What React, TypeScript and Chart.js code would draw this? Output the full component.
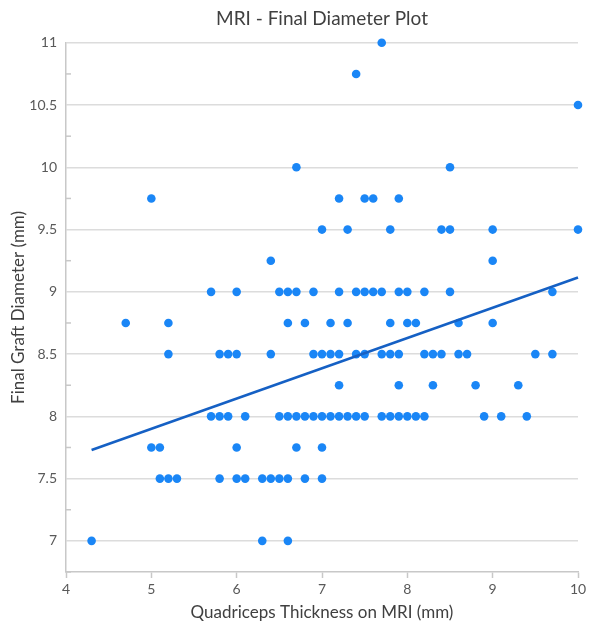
import React, { useEffect, useRef } from "react";
import { Chart, registerables } from "chart.js";

Chart.register(...registerables);

const chartTitle = "MRI - Final Diameter Plot";
const xAxisTitle = "Quadriceps Thickness on MRI (mm)";
const yAxisTitle = "Final Graft Diameter (mm)";

// Final graft diameter levels (mm) and the quadriceps thickness values (mm) observed at each level
const diameterLevels = [11, 10.75, 10.5, 10, 9.75, 9.5, 9.25, 9, 8.75, 8.5, 8.25, 8, 7.75, 7.5, 7];
const thicknessAt11 = [7.7];
const thicknessAt1075 = [7.4];
const thicknessAt105 = [10.0];
const thicknessAt10 = [6.7, 8.5];
const thicknessAt975 = [5.0, 7.2, 7.5, 7.6, 7.9];
const thicknessAt95 = [7.0, 7.3, 7.8, 8.4, 8.5, 9.0, 10.0];
const thicknessAt925 = [6.4, 9.0];
const thicknessAt9 = [5.7, 6.0, 6.5, 6.6, 6.7, 6.9, 7.2, 7.4, 7.5, 7.6, 7.7, 7.9, 8.0, 8.2, 8.5, 9.7];
const thicknessAt875 = [4.7, 5.2, 6.6, 6.8, 7.1, 7.3, 7.8, 8.0, 8.1, 8.6, 9.0];
const thicknessAt85 = [5.2, 5.8, 5.9, 6.0, 6.4, 6.9, 7.0, 7.1, 7.2, 7.4, 7.5, 7.7, 7.8, 7.9, 8.2, 8.3, 8.4, 8.6, 8.7, 9.5, 9.7];
const thicknessAt825 = [7.2, 7.9, 8.3, 8.8, 9.3];
const thicknessAt8 = [5.7, 5.8, 5.9, 6.1, 6.5, 6.6, 6.7, 6.8, 6.9, 7.0, 7.1, 7.2, 7.3, 7.4, 7.5, 7.7, 7.8, 7.9, 8.0, 8.1, 8.2, 8.9, 9.1, 9.4];
const thicknessAt775 = [5.0, 5.1, 6.0, 6.7, 7.0];
const thicknessAt75 = [5.1, 5.2, 5.3, 5.8, 6.0, 6.1, 6.3, 6.4, 6.5, 6.6, 6.8, 7.0];
const thicknessAt7 = [4.3, 6.3, 6.6];

const thicknessByLevel = [
  thicknessAt11, thicknessAt1075, thicknessAt105, thicknessAt10, thicknessAt975,
  thicknessAt95, thicknessAt925, thicknessAt9, thicknessAt875, thicknessAt85,
  thicknessAt825, thicknessAt8, thicknessAt775, thicknessAt75, thicknessAt7,
];

// Linear trend line end points
const trendX = [4.3, 10.0];
const trendY = [7.73, 9.115];

// Axis ticks
const xTickValues = [4, 5, 6, 7, 8, 9, 10];
const yTickValues = [6.75, 7, 7.25, 7.5, 7.75, 8, 8.25, 8.5, 8.75, 9, 9.25, 9.5, 9.75, 10, 10.25, 10.5, 10.75, 11];

const FONT = "Lato, 'Open Sans', sans-serif";

const isHalf = (v: number) => Math.abs(v * 2 - Math.round(v * 2)) < 1e-6;

export default function App() {
  const canvasRef = useRef<HTMLCanvasElement | null>(null);

  useEffect(() => {
    document.body.style.margin = "0";
    const canvas = canvasRef.current;
    if (!canvas) return;

    const points: { x: number; y: number }[] = [];
    diameterLevels.forEach((lvl, i) => {
      thicknessByLevel[i].forEach((x) => points.push({ x, y: lvl }));
    });
    const trend = trendX.map((x, i) => ({ x, y: trendY[i] }));

    const minorTicks = {
      id: "minorTicks",
      afterDatasetsDraw(chart: any) {
        const y = chart.scales.y;
        const ctx = chart.ctx;
        ctx.save();
        ctx.strokeStyle = "#c8c8c8";
        ctx.lineWidth = 1.5;
        yTickValues.forEach((v) => {
          if (isHalf(v)) return;
          const py = y.getPixelForValue(v);
          ctx.beginPath();
          ctx.moveTo(y.right, py);
          ctx.lineTo(y.right + 5, py);
          ctx.stroke();
        });
        ctx.restore();
      },
    };

    const chart = new Chart(canvas, {
      type: "scatter",
      data: {
        datasets: [
          {
            type: "line",
            data: trend,
            showLine: true,
            borderColor: "#1560c4",
            borderWidth: 2.5,
            pointRadius: 0,
            fill: false,
            clip: false,
          } as any,
          {
            data: points,
            backgroundColor: "#1a86f6",
            borderWidth: 0,
            pointRadius: 4.3,
            pointHoverRadius: 4.3,
            clip: false,
          } as any,
        ],
      },
      options: {
        animation: false,
        responsive: true,
        maintainAspectRatio: false,
        layout: { padding: { left: 0, right: 15, top: 0, bottom: 0 } },
        plugins: {
          legend: { display: false },
          tooltip: { enabled: false },
          title: {
            display: true,
            text: chartTitle,
            fullSize: false,
            color: "#404040",
            font: { family: FONT, size: 19, weight: "normal" },
            padding: { top: 7, bottom: 13 },
          },
        },
        scales: {
          x: {
            type: "linear",
            min: 4,
            max: 10,
            afterFit: (s: any) => {
              s.height = 56;
            },
            afterBuildTicks: (s: any) => {
              s.ticks = xTickValues.map((v) => ({ value: v }));
            },
            ticks: {
              color: "#595959",
              font: { family: FONT, size: 14 },
              padding: 3,
              maxRotation: 0,
              autoSkip: false,
            },
            grid: {
              drawOnChartArea: false,
              drawTicks: true,
              tickLength: 6,
              tickColor: "#c8c8c8",
              tickWidth: 1.5,
            },
            border: { color: "#c8c8c8", width: 1.5 },
            title: {
              display: true,
              text: xAxisTitle,
              color: "#404040",
              font: { family: FONT, size: 17 },
              padding: { top: 0, bottom: 5 },
            },
          },
          y: {
            type: "linear",
            min: 6.75,
            max: 11,
            afterFit: (s: any) => {
              s.width = 66;
            },
            afterBuildTicks: (s: any) => {
              s.ticks = yTickValues.map((v) => ({ value: v }));
            },
            ticks: {
              color: "#595959",
              font: { family: FONT, size: 14 },
              padding: 9,
              autoSkip: false,
              callback: (v: any) => (isHalf(Number(v)) && Number(v) >= 7 ? String(v) : ""),
            },
            grid: {
              drawTicks: false,
              color: (c: any) => (c.tick && isHalf(c.tick.value) ? "#dcdcdc" : "rgba(0,0,0,0)"),
              lineWidth: 1.5,
            },
            border: { color: "#c8c8c8", width: 1.5 },
            title: {
              display: true,
              text: yAxisTitle,
              color: "#404040",
              font: { family: FONT, size: 17 },
              padding: { top: 8, bottom: 0 },
            },
          },
        },
      },
      plugins: [minorTicks],
    });

    return () => chart.destroy();
  }, []);

  return (
    <div style={{ width: 593, height: 628, position: "relative", background: "#ffffff" }}>
      <canvas ref={canvasRef} />
    </div>
  );
}
